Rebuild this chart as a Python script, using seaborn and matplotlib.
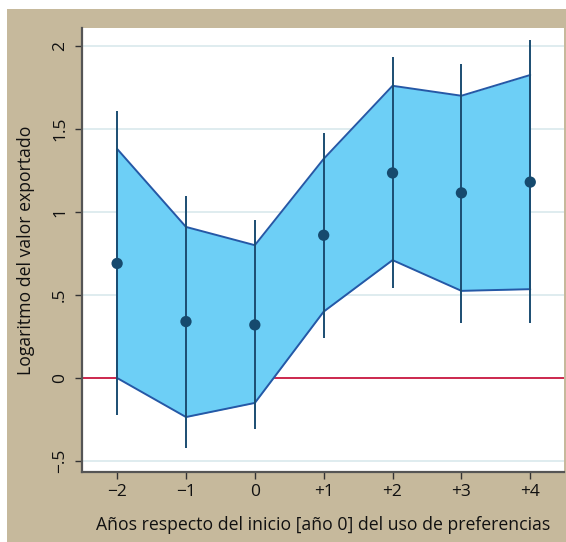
import numpy as np
import pandas as pd
import matplotlib
matplotlib.use("Agg")
import matplotlib.pyplot as plt
from matplotlib.patches import Rectangle
import seaborn as sns

# Data
years = [-2, -1, 0, 1, 2, 3, 4]
year_labels = ["\u22122", "\u22121", "0", "+1", "+2", "+3", "+4"]
estimate = [0.69, 0.34, 0.32, 0.86, 1.235, 1.115, 1.18]
ci_low = [-0.22, -0.42, -0.31, 0.24, 0.54, 0.33, 0.33]
ci_high = [1.61, 1.095, 0.95, 1.475, 1.935, 1.89, 2.035]
band_low = [0.0, -0.235, -0.15, 0.40, 0.71, 0.525, 0.535]
band_high = [1.38, 0.91, 0.80, 1.32, 1.76, 1.70, 1.825]
ytick_vals = [-0.5, 0, 0.5, 1, 1.5, 2]
ytick_labels = ["\u2212.5", "0", ".5", "1", "1.5", "2"]

df = pd.DataFrame({"year": years, "est": estimate})

sns.set_theme(style="white")
plt.rcParams["font.family"] = ["Open Sans", "DejaVu Sans"]

tan = "#c6b99c"
fig = plt.figure(figsize=(5.66, 5.42), dpi=100, facecolor="white")
fig.patches.append(Rectangle((7 / 566, 0), 1, (542 - 9) / 542,
                             transform=fig.transFigure, facecolor=tan,
                             edgecolor="none", zorder=-10))
ax = fig.add_axes([82 / 566, 1 - 472 / 542, (564 - 82) / 566, (472 - 28) / 542])
ax.set_facecolor("white")

# grid lines (except zero, which is the red reference line)
for v in ytick_vals:
    if v != 0:
        ax.axhline(v, color="#dcebee", lw=1.3, zorder=0)
ax.axhline(0, color="#c8163f", lw=1.3, zorder=1)

# shaded band
ax.fill_between(years, band_low, band_high, color="#6dcff6", lw=0, zorder=2)
sns.lineplot(x=years, y=band_high, color="#2558a6", lw=1.4, ax=ax, zorder=3)
sns.lineplot(x=years, y=band_low, color="#2558a6", lw=1.4, ax=ax, zorder=3)
ax.vlines(years[0], band_low[0], band_high[0], color="#2558a6", lw=1.4, zorder=3)
ax.vlines(years[-1], band_low[-1], band_high[-1], color="#2558a6", lw=1.4, zorder=3)

# confidence intervals and point estimates
ax.vlines(years, ci_low, ci_high, color="#1b4d72", lw=1.4, zorder=4)
sns.scatterplot(data=df, x="year", y="est", color="#164a6e", s=66,
                edgecolor="none", ax=ax, zorder=5)

ax.set_xlim(-2.51, 4.49)
ax.set_ylim(-0.566, 2.108)
ax.set_xticks(years)
ax.set_xticklabels(year_labels, fontsize=12.5)
ax.set_yticks(ytick_vals)
ax.set_yticklabels(ytick_labels, fontsize=12.5, rotation=90, va="center")

ax.tick_params(axis="both", which="both", direction="out", length=5,
               width=1, color="#333333", labelcolor="#111111")
ax.tick_params(axis="x", pad=4)
ax.tick_params(axis="y", pad=5)
ax.yaxis.set_ticks_position("left")
ax.xaxis.set_ticks_position("bottom")

for side in ["top", "right"]:
    ax.spines[side].set_visible(False)
for side in ["left", "bottom"]:
    ax.spines[side].set_color("#555555")
    ax.spines[side].set_linewidth(1.6)

ax.set_xlabel("Años respecto del inicio [año 0] del uso de preferencias",
              fontsize=12.7, color="#111111", labelpad=11)
ax.set_ylabel("Logaritmo del valor exportado", fontsize=12.7,
              color="#111111", labelpad=12)

fig.savefig("out.png", dpi=100, facecolor=fig.get_facecolor())
